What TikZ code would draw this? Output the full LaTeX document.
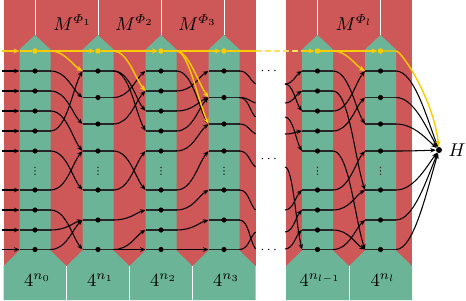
\documentclass[tikz,border=0pt]{standalone}
\usepackage{amsmath}
\usepackage{fontspec}
\newfontfamily\dejavu{DejaVu Sans}
\usetikzlibrary{arrows.meta,calc}
\definecolor{pred}{RGB}{206,88,87}
\definecolor{pgreen}{RGB}{107,180,151}
\definecolor{pyel}{RGB}{252,204,0}
\definecolor{pyell}{RGB}{252,224,100}
\tikzset{
  bwire/.style={black,line width=1.05pt,-{Stealth[length=5.5pt,width=4.5pt]}},
  bline/.style={black,line width=1.05pt},
  rowline/.style={black!85,line width=1.4pt},
  ywire/.style={pyel,line width=1.4pt,-{Stealth[length=6pt,width=5pt]}},
  yline/.style={pyel,line width=1.4pt},
  ydash/.style={pyell,line width=1.4pt,dash pattern=on 6pt off 3pt},
  bdot/.style={circle,fill=black,inner sep=0pt,minimum size=5.2pt},
  ydot/.style={circle,fill=pyel,inner sep=0pt,minimum size=5.5pt},
  hdot/.style={circle,fill=black,inner sep=0pt,minimum size=6pt},
  sepline/.style={white,line width=0.9pt},
  lab/.style={scale=1.85,inner sep=0pt,anchor=base},
  dotlab/.style={scale=1.4,inner sep=0pt,anchor=base},
  vdotlab/.style={inner sep=0pt,anchor=center,font=\dejavu\fontsize{10}{10}\selectfont},
}
\newcommand\cwire[5]{\draw[#1] let \p1=(#2),\p2=(#3) in (#2) .. controls (\x1+#4,\y1) and (\x2-#5,{\y2+0.3*(\y1-\y2)}) .. (#3);}
\def\rowsA{1/71,2/91,3/111,4/131,5/151,6/190,7/210,8/230,9/249.5}
\def\rowsB{1/71,2/97.5,3/124,4/151,5/190,6/220,7/249.5}
\begin{document}
\begin{tikzpicture}[x=1pt,y=-1pt]
\useasboundingbox (0,0) rectangle (466,300);
% panels
\fill[pred] (3.5,0) rectangle (255.5,266);
\fill[pred] (286,0) rectangle (412,266);
\foreach \cx in {35,98,161,224,317.5,380.5}{
  \fill[pgreen] (\cx-15.5,49.5) -- (\cx,35) -- (\cx+15.5,49.5) -- (\cx+15.5,250.5) -- (\cx+31.5,266) -- (\cx+31.5,300) -- (\cx-31.5,300) -- (\cx-31.5,266) -- (\cx-15.5,250.5) -- cycle;
  \draw[sepline] (\cx,0) -- (\cx,35);
}
\foreach \sx in {66.5,129.5,192.5,349}{\draw[sepline] (\sx,266) -- (\sx,300);}
% labels
\node[lab] (m1) at (72.5,30) {$M^{\varPhi_1}$};
\node[lab] (m2) at (134.5,30) {$M^{\varPhi_2}$};
\node[lab] (m3) at (197.5,30) {$M^{\varPhi_3}$};
\node[lab] (ml) at (354,30) {$M^{\varPhi_l}$};
\node[lab] (n0) at (37.5,286.5) {$4^{n_0}$};
\node[lab] (n1) at (100.5,286.5) {$4^{n_1}$};
\node[lab] (n2) at (163.5,286.5) {$4^{n_2}$};
\node[lab] (n3) at (226.5,286.5) {$4^{n_3}$};
\node[lab] (nl1) at (320,286.5) {$4^{n_{l-1}}$};
\node[lab] (nl) at (383,286.5) {$4^{n_l}$};
% coordinates
\foreach \k/\cx in {0/35,2/161,4/317.5}{\foreach \i/\yy in \rowsA{
  \coordinate (c\k r\i L) at (\cx-15.5,\yy);
  \coordinate (c\k r\i R) at (\cx+15.5,\yy);
  \coordinate (c\k r\i C) at (\cx,\yy);}}
\foreach \k/\cx in {1/98,3/224,5/380.5}{\foreach \i/\yy in \rowsB{
  \coordinate (c\k r\i L) at (\cx-15.5,\yy);
  \coordinate (c\k r\i R) at (\cx+15.5,\yy);
  \coordinate (c\k r\i C) at (\cx,\yy);}}
\foreach \k/\cx in {0/35,1/98,2/161,3/224,4/317.5,5/380.5}{
  \coordinate (c\k yL) at (\cx-15.5,51);
  \coordinate (c\k yR) at (\cx+15.5,51);
  \coordinate (c\k yC) at (\cx,51);}
\coordinate (g1) at (255.5,51);
\coordinate (g2) at (302,51);
\coordinate (iny) at (2,51);
\foreach \j/\yy in {1/84,2/103,3/117,4/134,5/167,6/210,7/232,8/249}{\coordinate (go\j) at (255.5,\yy);}
\foreach \j/\yy in {1/84,2/103,3/117,4/134,5/150,6/167,7/210,8/232,9/249}{\coordinate (gi\j) at (285,\yy);}
% row lines
\foreach \k in {0,2,4}{\foreach \i in {1,...,9}{\draw[rowline] (c\k r\i L) -- (c\k r\i R);}}
\foreach \k in {1,3,5}{\foreach \i in {1,...,7}{\draw[rowline] (c\k r\i L) -- (c\k r\i R);}}
% inputs
\foreach \i/\yy in \rowsA{\coordinate (in\i) at (2,\yy); \draw[bwire] (in\i) -- (c0r\i L);}
% black wires
\foreach \ia/\ib in {1/2,2/3,3/4,4/1,5/5,6/4,7/7,8/6,9/6}{\cwire{bwire}{c0r\ia R}{c1r\ib L}{16pt}{10pt}}
\foreach \ia/\ib in {1/3,1/4,2/1,3/2,4/6,5/5,6/7,7/8,7/9}{\cwire{bwire}{c1r\ia R}{c2r\ib L}{16pt}{10pt}}
\foreach \ia/\ib in {1/3,2/1,3/2,4/2,5/3,6/4,7/5,8/6,9/7}{\cwire{bwire}{c2r\ia R}{c3r\ib L}{16pt}{10pt}}
\foreach \ia/\ib in {1/1,2/2,2/3,3/4,4/5,5/6,6/8,7/7}{\cwire{bline}{c3r\ia R}{go\ib}{9pt}{6pt}}
\foreach \ia/\ib in {1/1,1/3,2/2,3/5,4/4,6/9,7/6,8/7,9/8}{\cwire{bwire}{gi\ia}{c4r\ib L}{8pt}{6pt}}
\foreach \ia/\ib in {1/3,2/5,3/1,4/2,5/7,6/4,7/5,8/7,9/6}{\cwire{bwire}{c4r\ia R}{c5r\ib L}{16pt}{10pt}}
% dots
\foreach \k in {0,2,4}{\foreach \i in {1,...,9}{\node[bdot] (c\k r\i) at (c\k r\i C) {};}}
\foreach \k in {1,3,5}{\foreach \i in {1,...,7}{\node[bdot] (c\k r\i) at (c\k r\i C) {};}}
\foreach \k in {0,...,5}{\node[ydot] (c\k y) at (c\k yC) {};}
\node[hdot] (H) at (439,150) {};
\node[lab] (Hl) at (457,156.5) {$H$};
% wires to H
\foreach \i in {1,...,7}{\draw[bwire] let \p1=(c5r\i R),\p2=(H) in (c5r\i R) .. controls (\x1+18pt,\y1) and (\x2-12pt,{\y2+0.4*(\y1-\y2)}) .. (H);}
% yellow
\draw[ywire] (iny) -- (c0yL);
\draw[yline] (c0yL) -- (c0y);
\draw[ywire] (c0y) -- (c1y);
\draw[ywire] (c1y) -- (c2y);
\draw[ywire] (c2y) -- (c3y);
\draw[yline] (c3y) -- (g1);
\draw[ydash] (g1) -- (g2);
\draw[ywire] (g2) -- (c4y);
\draw[ywire] (c4y) -- (c5y);
\cwire{ywire}{c0yR}{c1r1L}{14pt}{10pt}
\cwire{ywire}{c1yR}{c2r2L}{14pt}{10pt}
\cwire{ywire}{c2yR}{c3r2L}{12pt}{10pt}
\cwire{ywire}{c2yR}{c3r3L}{12pt}{10pt}
\cwire{ywire}{c4yR}{c5r1L}{14pt}{10pt}
\draw[ywire] let \p1=(c5yR),\p2=(H) in (c5y) -- (c5yR) .. controls (\x1+6pt,\y1) and (\x2-5pt,{\y2+0.5*(\y1-\y2)}) .. (H);
% ellipses
\node[dotlab] (dd1) at (270,74.5) {$\cdots$};
\node[dotlab] (dd2) at (270,162.5) {$\cdots$};
\node[dotlab] (dd3) at (270,253) {$\cdots$};
\foreach \k/\cx in {0/35,1/98,2/161,3/224,4/317.5,5/380.5}{\node[vdotlab] (vd\k) at (\cx,171) {⋮};}
\end{tikzpicture}
\end{document}
